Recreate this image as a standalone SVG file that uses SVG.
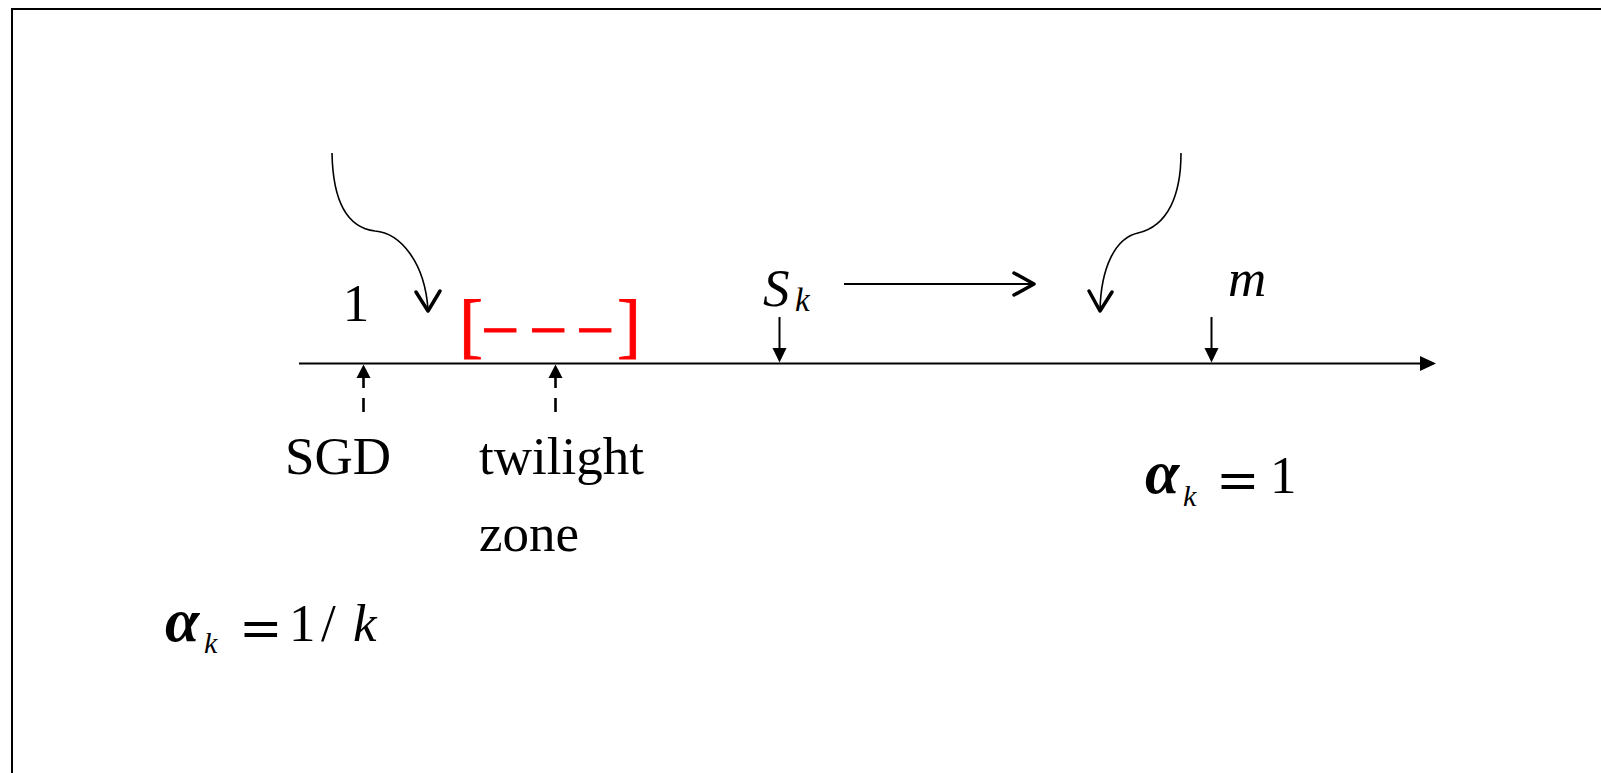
<svg xmlns="http://www.w3.org/2000/svg" width="1601" height="773" viewBox="0 0 1601 773">
<style>
.t{font-family:"Liberation Serif","Times New Roman",serif;font-size:53px;fill:#000}
.i{font-style:italic}
.a{font-style:italic;font-weight:bold;font-size:62px}
.eq{font-family:"DejaVu Serif",serif;font-size:52px}
.ln{fill:none;stroke:#000;stroke-width:2}
.cv{fill:none;stroke:#000;stroke-width:1.6}
.hd{fill:none;stroke:#000;stroke-width:3.5;stroke-linecap:round;stroke-linejoin:round}
.tri{fill:#000;stroke:none}
</style>
<rect width="1601" height="773" fill="#fff"/>
<path d="M12,773 V9 H1601" fill="none" stroke="#000" stroke-width="2"/>

<g id="axis">
<line class="ln" x1="299" y1="363.5" x2="1422" y2="363.5"/>
<polygon class="tri" points="1436,363.5 1420,356 1420,371"/>
</g>

<g id="connectors">
<path class="cv" d="M332,153 C333,207 350,228 375,231 C400,233 425,262 428,310"/>
<polyline class="hd" points="416,292 428,311 440,291"/>
<path class="cv" d="M1181,153 C1181,195 1168,226 1138,233 C1115,238 1101,268 1100,310"/>
<polyline class="hd" points="1089,291 1100,311 1112,292"/>
<line class="ln" x1="844" y1="284" x2="1033" y2="284"/>
<polyline class="hd" points="1014,273 1034,284 1014,295"/>
<line class="ln" x1="779.5" y1="317" x2="779.5" y2="350"/>
<polygon class="tri" points="779.5,362.5 772.5,348 786.5,348"/>
<line class="ln" x1="1211.5" y1="317" x2="1211.5" y2="350"/>
<polygon class="tri" points="1211.5,362.5 1204.5,348 1218.5,348"/>
<polygon class="tri" points="363.5,364.5 356.5,378 370.5,378"/>
<path d="M363.5,377 V388 M363.5,398 V412" fill="none" stroke="#000" stroke-width="2.6"/>
<polygon class="tri" points="555.5,364.5 548.5,378 562.5,378"/>
<path d="M555.5,377 V388 M555.5,398 V412" fill="none" stroke="#000" stroke-width="2.6"/>
</g>

<g id="label-one"><text class="t" x="356" y="321" text-anchor="middle">1</text></g>

<g id="twilight-interval">
<text class="t" style="fill:#f00;stroke:#f00;stroke-width:0.8"><tspan x="459" y="349" font-size="72">[</tspan><tspan x="481" y="353" font-size="68">−</tspan><tspan x="529" y="353" font-size="68">−</tspan><tspan x="576" y="353" font-size="68">−</tspan><tspan x="617" y="349" font-size="72">]</tspan></text>
</g>

<g id="label-sk"><text class="t i" x="763" y="306">S<tspan font-size="33" x="795" y="311">k</tspan></text></g>
<g id="label-m"><text class="t i" x="1228" y="296" font-size="58">m</text></g>

<g id="label-sgd"><text class="t" x="285" y="474">SGD</text></g>
<g id="label-twilight"><text class="t" x="479" y="474">twilight</text><text class="t" x="479" y="551">zone</text></g>

<g id="alpha-one"><text class="t"><tspan class="a" x="1145" y="493">α</tspan><tspan class="i" font-size="30" x="1183" y="506">k</tspan><tspan class="eq" x="1216" y="498">=</tspan><tspan x="1270" y="493">1</tspan></text></g>

<g id="alpha-inv"><text class="t"><tspan class="a" x="165" y="641">α</tspan><tspan class="i" font-size="30" x="204" y="653">k</tspan><tspan class="eq" x="239" y="646">=</tspan><tspan x="289" y="641">1</tspan><tspan x="321" y="641">/</tspan><tspan class="i" x="353" y="641">k</tspan></text></g>
</svg>
